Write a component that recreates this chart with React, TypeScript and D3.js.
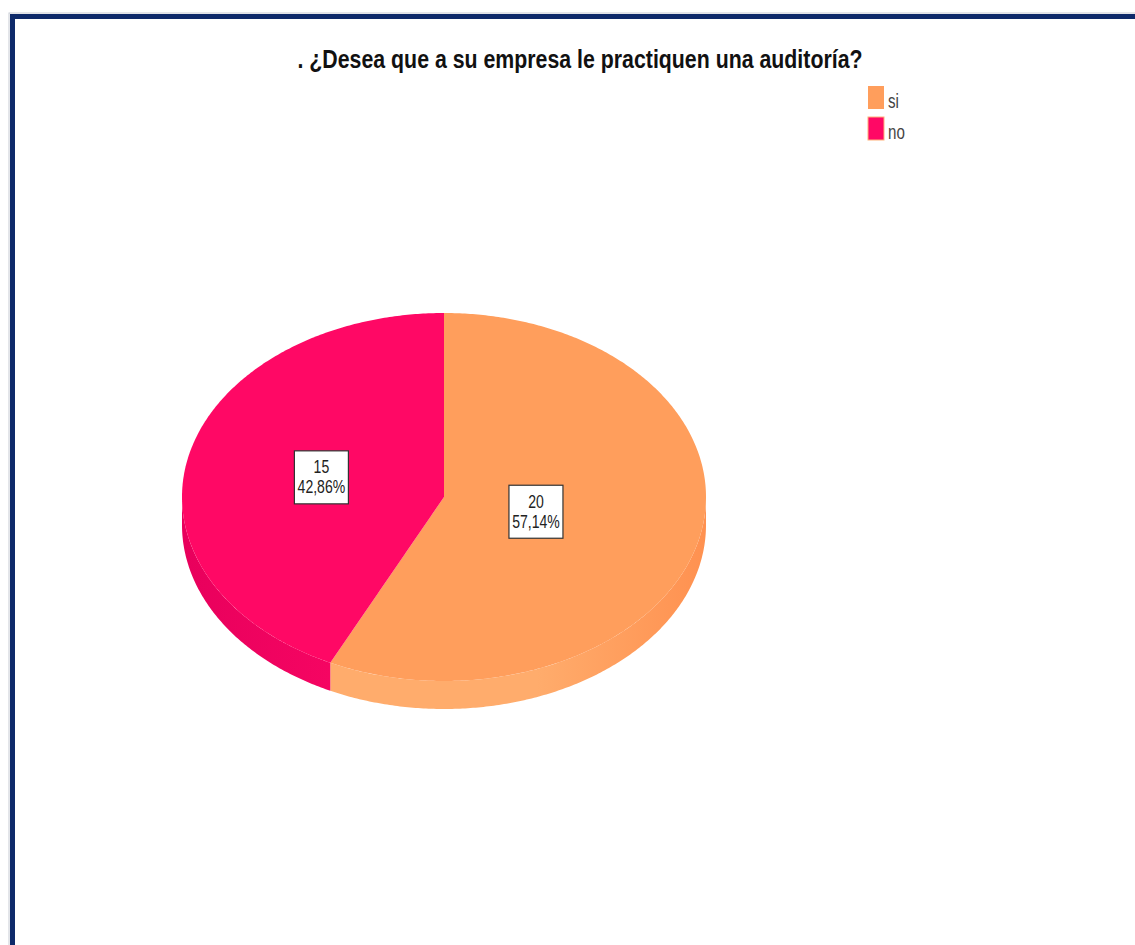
import React from "react";
import * as d3 from "d3";

const title = ". ¿Desea que a su empresa le practiquen una auditoría?";
const categories = ["si", "no"];
const counts = [20, 15];
const percentLabels = ["57,14%", "42,86%"];
const topColors = ["#FF9E5C", "#FF0865"];
const sideColorsLight = ["#FFAC6C", "#F50562"];
const sideColorsDark = ["#FF9150", "#E8005C"];
const labelRadiusFrac = [0.36, 0.48];

const W = 1135;
const H = 945;
const cx = 444;
const cy = 497;
const rx = 262;
const ry = 184;
const depth = 28;

function pt(a: number, r = 1, dz = 0): [number, number] {
  return [cx + Math.sin(a) * rx * r, cy - Math.cos(a) * ry * r + dz];
}

function arcPts(a0: number, a1: number, dz = 0): [number, number][] {
  const n = Math.max(2, Math.ceil(Math.abs(a1 - a0) / 0.01));
  const pts: [number, number][] = [];
  for (let i = 0; i <= n; i++) pts.push(pt(a0 + ((a1 - a0) * i) / n, 1, dz));
  return pts;
}

const font = "'Liberation Sans', Arial, sans-serif";

export default function App() {
  const pie = d3
    .pie<number>()
    .sort(null)
    .startAngle(0)
    .endAngle(2 * Math.PI)
    .value((d) => d);
  const arcs = pie(counts);
  const line = d3.line();

  const sides = arcs.map((a, i) => {
    const s = Math.max(a.startAngle, Math.PI / 2);
    const e = Math.min(a.endAngle, (3 * Math.PI) / 2);
    if (e <= s) return null;
    const top = arcPts(s, e, 0);
    const bot = arcPts(e, s, depth);
    return { i, d: line([...top, ...bot])! + "Z" };
  });

  const tops = arcs.map((a, i) => {
    const pts: [number, number][] = [[cx, cy], ...arcPts(a.startAngle, a.endAngle, 0)];
    return { i, d: line(pts)! + "Z" };
  });

  const labels = arcs.map((a, i) => {
    const mid = (a.startAngle + a.endAngle) / 2;
    const [x, y] = pt(mid, labelRadiusFrac[i]);
    return { i, x, y };
  });

  return (
    <svg width={W} height={H} style={{ position: "absolute", left: 0, top: 0 }}>
      <defs>
        <linearGradient id="side0" x1="0" x2="1" y1="0" y2="0">
          <stop offset="0" stopColor={sideColorsLight[0]} />
          <stop offset="0.55" stopColor={sideColorsLight[0]} />
          <stop offset="1" stopColor={sideColorsDark[0]} />
        </linearGradient>
        <linearGradient id="side1" x1="0" x2="1" y1="0" y2="0">
          <stop offset="0" stopColor={sideColorsDark[1]} />
          <stop offset="1" stopColor={sideColorsLight[1]} />
        </linearGradient>
      </defs>
      <rect x={0} y={0} width={W} height={H} fill="#fff" />
      {/* frame */}
      <rect x={9} y={13} width={W + 20} height={H + 20} fill="none" stroke="#c8ccd4" strokeWidth={1} />
      <rect x={12.5} y={16.5} width={W + 20} height={H + 20} fill="none" stroke="#0e2a6a" strokeWidth={5} />

      <text
        x={580}
        y={68}
        textAnchor="middle"
        fontFamily={font}
        fontWeight="bold"
        fontSize={26}
        textLength={565}
        lengthAdjust="spacingAndGlyphs"
        fill="#111"
      >
        {title}
      </text>

      {/* legend */}
      {categories.map((c, i) => (
        <g key={c}>
          <rect x={868} y={86 + i * 31} width={16} height={23} fill={topColors[i]} stroke="#ffb27a" strokeWidth={i === 1 ? 1 : 0} />
          <g transform={`translate(888,${108 + i * 31}) scale(0.72,1)`}>
            <text x={0} y={0} fontFamily={font} fontSize={21} fill="#444">
              {c}
            </text>
          </g>
        </g>
      ))}

      {/* pie sides */}
      {sides.map((s) => (s ? <path key={"s" + s.i} d={s.d} fill={`url(#side${s.i})`} /> : null))}
      {/* pie tops */}
      {tops.map((t) => (
        <path key={"t" + t.i} d={t.d} fill={topColors[t.i]} />
      ))}

      {/* labels */}
      {labels.map((l) => (
        <g key={"l" + l.i}>
          <rect x={l.x - 27} y={l.y - 26.5} width={54} height={53} fill="#fff" stroke="#333" strokeWidth={1.2} />
          <g transform={`translate(${l.x},${l.y}) scale(0.78,1)`}>
            <text x={0} y={-4} textAnchor="middle" fontFamily={font} fontSize={18} fill="#222">
              {counts[l.i]}
            </text>
            <text x={0} y={16} textAnchor="middle" fontFamily={font} fontSize={18} fill="#222">
              {percentLabels[l.i]}
            </text>
          </g>
        </g>
      ))}
    </svg>
  );
}
